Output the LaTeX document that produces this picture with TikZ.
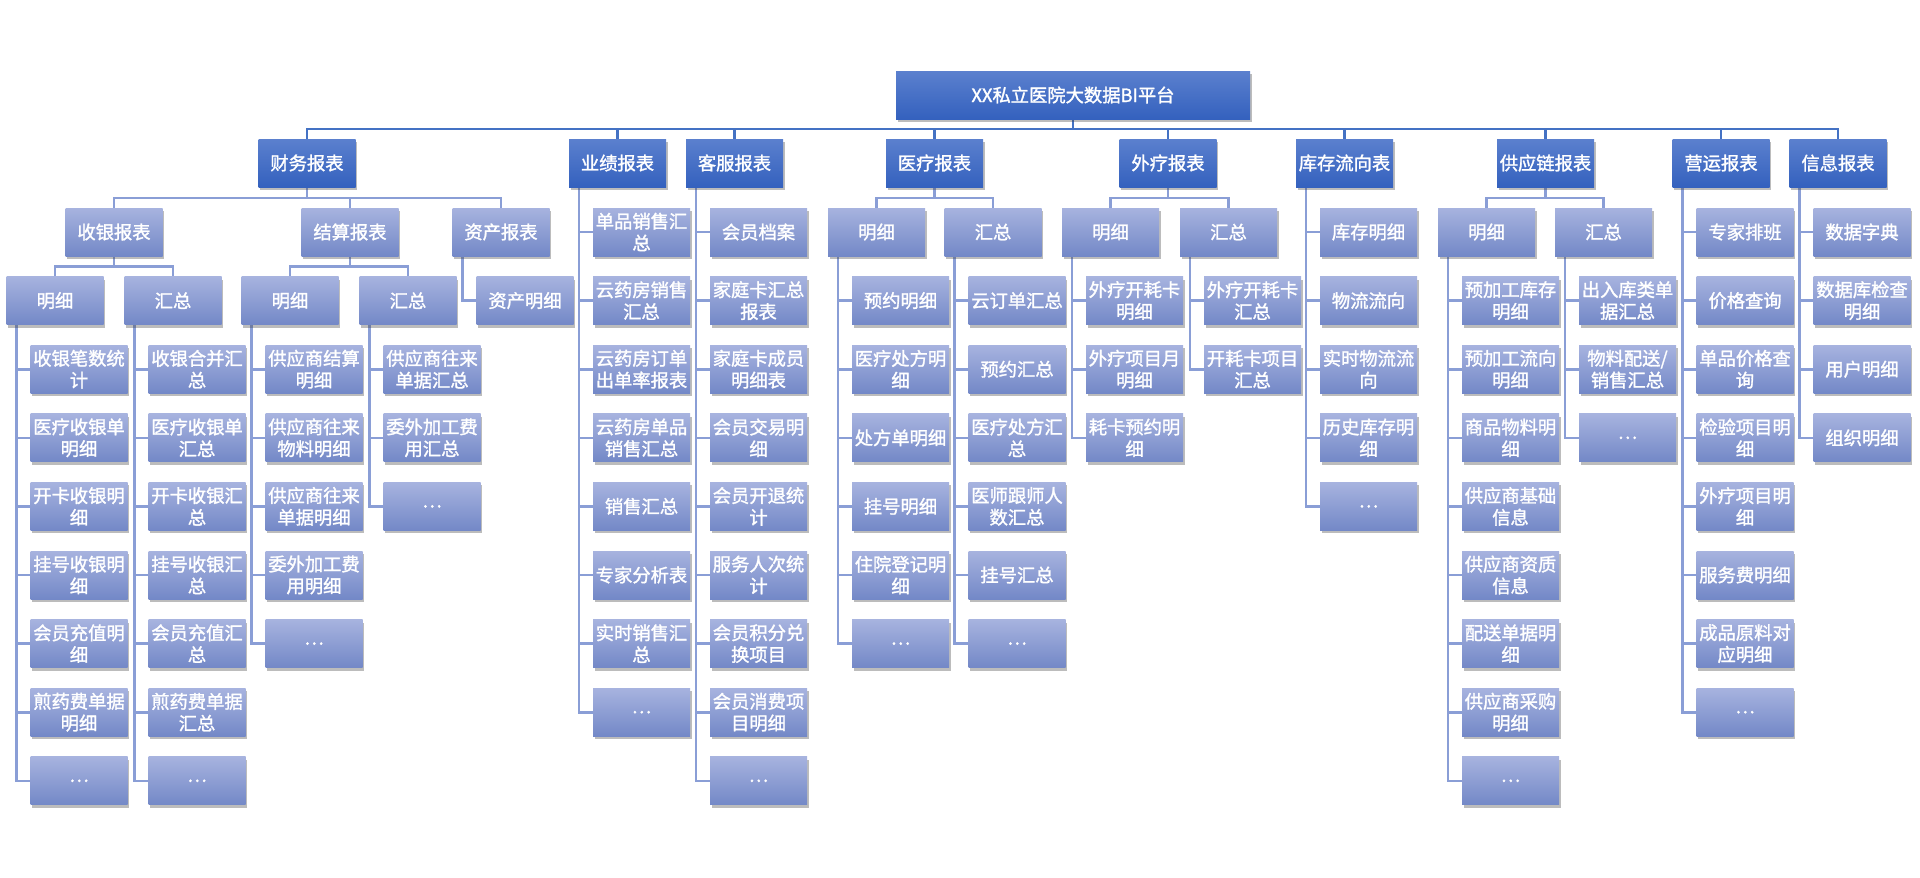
\documentclass[tikz,border=0pt]{standalone}
\usepackage{fontspec}
\setmainfont{Noto Sans CJK SC}[FakeBold=1.5]
\usetikzlibrary{shadows}
\definecolor{dkTop}{HTML}{5B80CE}
\definecolor{dkBot}{HTML}{3461BE}
\definecolor{ltTop}{HTML}{A7B3DF}
\definecolor{ltBot}{HTML}{7388C7}
\definecolor{lnDk}{HTML}{4472C4}
\definecolor{lnLt}{HTML}{8A9ED6}
\pgfdeclarelayer{background}
\pgfsetlayers{background,main}
\tikzset{
  basebox/.style={rectangle, minimum width=97pt, minimum height=48pt, inner sep=0pt,
    align=center, text=white, font=\fontsize{18.3}{21.8}\selectfont,
    drop shadow={shadow xshift=1.5pt, shadow yshift=-3pt, fill=black!75, opacity=0.35}},
  dbox/.style={basebox, top color=dkTop, bottom color=dkBot},
  lbox/.style={basebox, top color=ltTop, bottom color=ltBot},
  rootbox/.style={dbox, minimum width=354pt},
  dline/.style={draw=lnDk, line width=2.6pt},
  lline/.style={draw=lnLt, line width=2.6pt},
}
\newcommand{\rowy}[1]{232+68.6*#1}
\begin{document}
\begin{tikzpicture}[x=1pt,y=-1pt]
\useasboundingbox (0,0) rectangle (1920,878);
% root
\node[rootbox] (root) at (1073,95) {XX私立医院大数据BI平台};
% level 1
\node[dbox] (cw) at (307,163) {财务报表};
\node[dbox] (yj) at (617.5,163) {业绩报表};
\node[dbox] (kf) at (734.5,163) {客服报表};
\node[dbox] (yl) at (934.5,163) {医疗报表};
\node[dbox] (wl) at (1168,163) {外疗报表};
\node[dbox] (kc) at (1344.5,163) {库存流向表};
\node[dbox] (gy) at (1545.5,163) {供应链报表};
\node[dbox] (yy) at (1721,163) {营运报表};
\node[dbox] (xx) at (1838,163) {信息报表};
% level 2
\node[lbox] (sy) at (114,{\rowy{0}}) {收银报表};
\node[lbox] (js) at (350,{\rowy{0}}) {结算报表};
\node[lbox] (zc) at (501,{\rowy{0}}) {资产报表};
\node[lbox] (ylm) at (876.5,{\rowy{0}}) {明细};
\node[lbox] (ylh) at (993,{\rowy{0}}) {汇总};
\node[lbox] (wlm) at (1110.5,{\rowy{0}}) {明细};
\node[lbox] (wlh) at (1228.5,{\rowy{0}}) {汇总};
\node[lbox] (gym) at (1486.5,{\rowy{0}}) {明细};
\node[lbox] (gyh) at (1603.5,{\rowy{0}}) {汇总};
% level 3
\node[lbox] (sym) at (55,{\rowy{1}}) {明细};
\node[lbox] (syh) at (173,{\rowy{1}}) {汇总};
\node[lbox] (jsm) at (290,{\rowy{1}}) {明细};
\node[lbox] (jsh) at (408,{\rowy{1}}) {汇总};
\node[lbox] (zcm) at (525,{\rowy{1}}) {资产明细};

% leaf lists
\foreach \t [count=\i from 0] in {{收银笔数统\\计},{医疗收银单\\明细},{开卡收银明\\细},{挂号收银明\\细},{会员充值明\\细},{煎药费单据\\明细},{…}}
  \node[lbox] (symi\i) at (79,{\rowy{(\i+2)}}) {\t};
\foreach \t [count=\i from 0] in {{收银合并汇\\总},{医疗收银单\\汇总},{开卡收银汇\\总},{挂号收银汇\\总},{会员充值汇\\总},{煎药费单据\\汇总},{…}}
  \node[lbox] (syhi\i) at (197,{\rowy{(\i+2)}}) {\t};
\foreach \t [count=\i from 0] in {{供应商结算\\明细},{供应商往来\\物料明细},{供应商往来\\单据明细},{委外加工费\\用明细},{…}}
  \node[lbox] (jsmi\i) at (314,{\rowy{(\i+2)}}) {\t};
\foreach \t [count=\i from 0] in {{供应商往来\\单据汇总},{委外加工费\\用汇总},{…}}
  \node[lbox] (jshi\i) at (432,{\rowy{(\i+2)}}) {\t};
\foreach \t [count=\i from 0] in {{单品销售汇\\总},{云药房销售\\汇总},{云药房订单\\出单率报表},{云药房单品\\销售汇总},{销售汇总},{专家分析表},{实时销售汇\\总},{…}}
  \node[lbox] (yji\i) at (641.5,{\rowy{\i}}) {\t};
\foreach \t [count=\i from 0] in {{会员档案},{家庭卡汇总\\报表},{家庭卡成员\\明细表},{会员交易明\\细},{会员开退统\\计},{服务人次统\\计},{会员积分兑\\换项目},{会员消费项\\目明细},{…}}
  \node[lbox] (kfi\i) at (758.5,{\rowy{\i}}) {\t};
\foreach \t [count=\i from 0] in {{预约明细},{医疗处方明\\细},{处方单明细},{挂号明细},{住院登记明\\细},{…}}
  \node[lbox] (ylmi\i) at (900.5,{\rowy{(\i+1)}}) {\t};
\foreach \t [count=\i from 0] in {{云订单汇总},{预约汇总},{医疗处方汇\\总},{医师跟师人\\数汇总},{挂号汇总},{…}}
  \node[lbox] (ylhi\i) at (1017,{\rowy{(\i+1)}}) {\t};
\foreach \t [count=\i from 0] in {{外疗开耗卡\\明细},{外疗项目月\\明细},{耗卡预约明\\细}}
  \node[lbox] (wlmi\i) at (1134.5,{\rowy{(\i+1)}}) {\t};
\foreach \t [count=\i from 0] in {{外疗开耗卡\\汇总},{开耗卡项目\\汇总}}
  \node[lbox] (wlhi\i) at (1252.5,{\rowy{(\i+1)}}) {\t};
\foreach \t [count=\i from 0] in {{库存明细},{物流流向},{实时物流流\\向},{历史库存明\\细},{…}}
  \node[lbox] (kci\i) at (1368.5,{\rowy{\i}}) {\t};
\foreach \t [count=\i from 0] in {{预加工库存\\明细},{预加工流向\\明细},{商品物料明\\细},{供应商基础\\信息},{供应商资质\\信息},{配送单据明\\细},{供应商采购\\明细},{…}}
  \node[lbox] (gymi\i) at (1510.5,{\rowy{(\i+1)}}) {\t};
\foreach \t [count=\i from 0] in {{出入库类单\\据汇总},{物料配送/\\销售汇总},{…}}
  \node[lbox] (gyhi\i) at (1627.5,{\rowy{(\i+1)}}) {\t};
\foreach \t [count=\i from 0] in {{专家排班},{价格查询},{单品价格查\\询},{检验项目明\\细},{外疗项目明\\细},{服务费明细},{成品原料对\\应明细},{…}}
  \node[lbox] (yyi\i) at (1745,{\rowy{\i}}) {\t};
\foreach \t [count=\i from 0] in {{数据字典},{数据库检查\\明细},{用户明细},{组织明细}}
  \node[lbox] (xxi\i) at (1862,{\rowy{\i}}) {\t};

\begin{pgfonlayer}{background}
% root to level 1
\foreach \c in {cw,yj,kf,yl,wl,kc,gy,yy,xx}
  \draw[dline] (root.south) |- ([yshift=10pt]\c.north) -- (\c.north);
% tree (top-down) connectors
\foreach \p/\c in {cw/sy,cw/js,cw/zc,yl/ylm,yl/ylh,wl/wlm,wl/wlh,gy/gym,gy/gyh,sy/sym,sy/syh,js/jsm,js/jsh}
  \draw[lline] (\p.south) |- ([yshift=10pt]\c.north) -- (\c.north);
% side connectors
\draw[lline] ([xshift=-38.5pt]zc.south) |- (zcm.west);
\foreach \p/\c/\n in {sym/symi/6,syh/syhi/6,jsm/jsmi/4,jsh/jshi/2,yj/yji/7,kf/kfi/8,ylm/ylmi/5,ylh/ylhi/5,wlm/wlmi/2,wlh/wlhi/1,kc/kci/4,gym/gymi/7,gyh/gyhi/2,yy/yyi/7,xx/xxi/3}
{
  \draw[lline] ([xshift=-38.5pt]\p.south) |- (\c\n.west);
  \foreach \k in {0,...,\n}
    \draw[lline] ([xshift=-38.5pt]\p.south |- \c\k.west) -- (\c\k.west);
}
\end{pgfonlayer}
\end{tikzpicture}
\end{document}
